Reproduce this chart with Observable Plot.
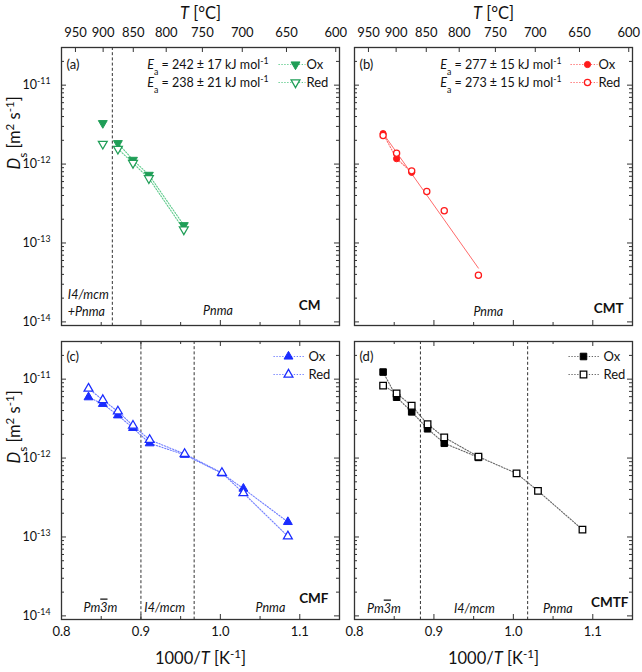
<!DOCTYPE html>
<html><head><meta charset="utf-8">
<script src="https://cdn.jsdelivr.net/npm/d3@7"></script>
<script src="https://cdn.jsdelivr.net/npm/@observablehq/plot@0.6"></script>
<style>body{margin:0;background:#fff} svg{display:block}</style>
</head><body><div id="chart"></div>
<script>
// ---------- data ----------
// (a) CM
const aX   = [0.852, 0.871, 0.890, 0.910, 0.954];
const aOx  = [3.3e-12, 1.84e-12, 1.13e-12, 7.3e-13, 1.68e-13];
const aRed = [1.80e-12, 1.56e-12, 1.03e-12, 6.6e-13, 1.48e-13];
const aBounds = [0.864];
const aPhaseX = [0.808, 0.997];
const aPhaseT = ["I4/mcm\n+Pnma", "Pnma"];
const aEa = ["*E*_{a} = 242 ± 17 kJ mol^{-1}", "*E*_{a} = 238 ± 21 kJ mol^{-1}"];
// (b) CMT
const bOxX  = [0.836, 0.853, 0.872];
const bOx   = [2.43e-12, 1.17e-12, 7.85e-13];
const bRedX = [0.836, 0.853, 0.872, 0.891, 0.913, 0.956];
const bRed  = [2.30e-12, 1.37e-12, 8.2e-13, 4.5e-13, 2.56e-13, 3.9e-14];
const bFitX = [0.836, 0.956];
const bFitD = [2.45e-12, 4.8e-14];
const bPhaseX = [0.9685];
const bPhaseT = ["Pnma"];
const bEa = ["*E*_{a} = 277 ± 15 kJ mol^{-1}", "*E*_{a} = 273 ± 15 kJ mol^{-1}"];
// (c) CMF
const cX   = [0.834, 0.852, 0.871, 0.890, 0.911, 0.955, 1.002, 1.029, 1.085];
const cOx  = [5.9e-12, 4.86e-12, 3.48e-12, 2.41e-12, 1.54e-12, 1.10e-12, 6.4e-13, 4.1e-13, 1.55e-13];
const cRed = [7.6e-12, 5.45e-12, 3.9e-12, 2.58e-12, 1.70e-12, 1.13e-12, 6.5e-13, 3.6e-13, 1.02e-13];
const cBounds = [0.900, 0.967];
const cPhaseX = [0.849, 0.930, 1.063];
const cPhaseT = ["Pm~{3}m", "I4/mcm", "Pnma"];
// (d) CMTF
const dX   = [0.836, 0.853, 0.872, 0.892, 0.913, 0.956, 1.004, 1.031, 1.087];
const dOx  = [1.23e-11, 5.9e-12, 3.85e-12, 2.35e-12, 1.54e-12, 1.02e-12];
const dRed = [8.3e-12, 6.6e-12, 4.6e-12, 2.68e-12, 1.83e-12, 1.04e-12, 6.4e-13, 3.84e-13, 1.24e-13];
const dBounds = [0.883, 1.018];
const dPhaseX = [0.837, 0.951, 1.056];
const dPhaseT = ["Pm~{3}m", "I4/mcm", "Pnma"];

// ticks
const xMajor = [0.8, 0.9, 1.0, 1.1];
const xMinor = [0.85, 0.95, 1.05];
const yMajor = [1e-14, 1e-13, 1e-12, 1e-11];
const yMinor = [];
for (const e of [-14, -13, -12, -11]) for (let m = 2; m <= 9; m++) { const v = m * Math.pow(10, e); if (v < 2.99e-11) yMinor.push(v); }
const Tlabels = [950, 900, 850, 800, 750, 700, 650, 600];

// ---------- layout ----------
const W = 642, H = 672, ML = 61, MR = 10, MT = 47, MB = 53;
const PX = 0.0512, PY = 0.0544;
const BWX = (W - ML - MR) / (2 - PX) * (1 - PX);
const BWY = (H - MT - MB) / (2 - PY) * (1 - PY);

const triDown = {draw(ctx, size) {
  const y = Math.sqrt(size / (3 * Math.sqrt(3)));
  ctx.moveTo(0, 2 * y); ctx.lineTo(-Math.sqrt(3) * y, -y); ctx.lineTo(Math.sqrt(3) * y, -y); ctx.closePath();
}};
const legLine = (l, r) => ({draw(ctx) { ctx.moveTo(l, 0); ctx.lineTo(r, 0); }});

const P = {
  a: {fx: "L", fy: "T", color: "#1f9e57", line: "#5fcb8c", sym: triDown, r: 3.3, name: "(a)", tag: "CM",
      tagDx: -19, tagDy: -20, phDy: -15, legDx: -44, legTx: -33, legDy: [17, 35], ll: [-17, 10], ea: aEa},
  b: {fx: "R", fy: "T", color: "#ff1a1a", line: "#ff6b6b", sym: "circle", r: 3.1, name: "(b)", tag: "CMT",
      tagDx: -9, tagDy: -17, phDy: -14, legDx: -45, legTx: -34, legDy: [17, 35], ll: [-17, 10], ea: bEa},
  c: {fx: "L", fy: "B", color: "#1a2cff", line: "#6f7dff", sym: "triangle", r: 3.3, name: "(c)", tag: "CMF",
      tagDx: -11, tagDy: -21, phDy: -12, legDx: -51, legTx: -31, legDy: [15, 33], ll: [-15, 16]},
  d: {fx: "R", fy: "B", color: "#000000", line: "#666666", sym: "square", r: 3.7, name: "(d)", tag: "CMTF",
      tagDx: -4, tagDy: -17, phDy: -11, legDx: -49, legTx: -29, legDy: [15, 33], ll: [-15, 16]}
};

const pts = (p, xs, ys) => ys.map((y, i) => ({fx: p.fx, fy: p.fy, x: xs[i], y}));
const one = p => [{fx: p.fx, fy: p.fy}];
const F = {fx: "fx", fy: "fy"};
const MID = {lineAnchor: "middle"};

const marks = [];
// phase boundaries
for (const [k, b] of [["a", aBounds], ["c", cBounds], ["d", dBounds]])
  marks.push(Plot.ruleX(b.map(x => ({...one(P[k])[0], x})), {x: "x", ...F, stroke: "#333", strokeWidth: 1, strokeDasharray: "3,2.2"}));

// connecting / fit lines
const lineOpt = p => ({x: "x", y: "y", ...F, stroke: p.line, strokeWidth: 1.1, strokeDasharray: "1.3,1.6"});
marks.push(Plot.line(pts(P.a, aX.slice(1), aOx.slice(1)), lineOpt(P.a)));
marks.push(Plot.line(pts(P.a, aX.slice(1), aRed.slice(1)), lineOpt(P.a)));
marks.push(Plot.line(pts(P.b, bOxX, bOx), lineOpt(P.b)));
marks.push(Plot.line(pts(P.b, bFitX, bFitD), {x: "x", y: "y", ...F, stroke: P.b.line, strokeWidth: 1}));
marks.push(Plot.line(pts(P.c, cX, cOx), lineOpt(P.c)));
marks.push(Plot.line(pts(P.c, cX, cRed), lineOpt(P.c)));
marks.push(Plot.line(pts(P.d, dX, dOx), lineOpt(P.d)));
marks.push(Plot.line(pts(P.d, dX, dRed), lineOpt(P.d)));

// points
const ox = (p, xs, ys) => Plot.dot(pts(p, xs, ys), {x: "x", y: "y", ...F, symbol: p.sym, r: p.r, fill: p.color, stroke: p.color, strokeWidth: 1});
const red = (p, xs, ys) => Plot.dot(pts(p, xs, ys), {x: "x", y: "y", ...F, symbol: p.sym, r: p.r, fill: "white", stroke: p.color, strokeWidth: 1.25});
marks.push(ox(P.a, aX, aOx), red(P.a, aX, aRed));
marks.push(ox(P.b, bOxX, bOx), red(P.b, bRedX, bRed));
marks.push(ox(P.c, cX, cOx), red(P.c, cX, cRed));
marks.push(ox(P.d, dX, dOx), red(P.d, dX, dRed));

// ticks (inward on all sides)
const TS = {stroke: "#333", strokeWidth: 1};
marks.push(Plot.tickY(yMajor, {y: d => d, insetRight: BWX - 5, ...TS}));
marks.push(Plot.tickY(yMinor, {y: d => d, insetRight: BWX - 3, ...TS}));
marks.push(Plot.tickY(yMajor, {y: d => d, insetLeft: BWX - 5, ...TS}));
marks.push(Plot.tickY(yMinor, {y: d => d, insetLeft: BWX - 3, ...TS}));
marks.push(Plot.tickX(xMajor, {x: d => d, insetTop: BWY - 5, ...TS}));
marks.push(Plot.tickX(xMinor, {x: d => d, insetTop: BWY - 3, ...TS}));
marks.push(Plot.tickX(xMajor.map(x => ({x, fy: "B"})), {x: "x", fy: "fy", insetBottom: BWY - 5, ...TS}));
marks.push(Plot.tickX(xMinor.map(x => ({x, fy: "B"})), {x: "x", fy: "fy", insetBottom: BWY - 3, ...TS}));
const Tpos = Tlabels.map(t => 1000 / (t + 273.15));
marks.push(Plot.tickX(Tpos.map(x => ({x, fy: "T"})), {x: "x", fy: "fy", insetBottom: BWY - 5, ...TS}));

marks.push(Plot.frame({stroke: "#333", strokeWidth: 1.3}));

// axes labels
marks.push(Plot.axisY({anchor: "left", facetAnchor: "left", ticks: yMajor, tickSize: 0, tickPadding: 11,
  tickFormat: d => "10^{" + Math.round(Math.log10(d)) + "}", label: null, fontSize: 12.5}));
marks.push(Plot.axisX({anchor: "bottom", facetAnchor: "bottom", ticks: xMajor, tickSize: 0, tickPadding: 7,
  tickFormat: d3.format(".1f"), label: null, fontSize: 13}));
marks.push(Plot.axisX({anchor: "top", facetAnchor: "top", ticks: Tpos, tickSize: 0, tickPadding: 11,
  tickFormat: d => String(Math.round(1000 / d - 273.15)), label: null, fontSize: 13}));

// axis titles
const topRow = [{fx: "L", fy: "T", t: "*T* [°C]"}, {fx: "R", fy: "T", t: "*T* [°C]"}];
const botRow = [{fx: "L", fy: "B", t: "1000/*T* [K^{-1}]"}, {fx: "R", fy: "B", t: "1000/*T* [K^{-1}]"}];
const leftCol = [{fx: "L", fy: "T", t: "*D*_{s} [m^{2} s^{-1}]"}, {fx: "L", fy: "B", t: "*D*_{s} [m^{2} s^{-1}]"}];
marks.push(Plot.text(topRow, {text: "t", ...F, frameAnchor: "top", dy: -34, fontSize: 16.5, ...MID}));
marks.push(Plot.text(botRow, {text: "t", ...F, frameAnchor: "bottom", dy: 39, fontSize: 16.5, ...MID}));
marks.push(Plot.text(leftCol, {text: "t", ...F, frameAnchor: "left", dx: -47, dy: -17, rotate: -90, fontSize: 16.5, ...MID}));

// panel annotations
for (const k of ["a", "b", "c", "d"]) {
  const p = P[k];
  marks.push(Plot.text(one(p), {text: () => p.name, ...F, frameAnchor: "top-left", dx: 5, dy: p.legDy[0], textAnchor: "start", fontSize: 13, ...MID}));
  marks.push(Plot.text(one(p), {text: () => p.tag, ...F, frameAnchor: "bottom-right", dx: p.tagDx, dy: p.tagDy, textAnchor: "end", fontSize: 13.5, fontWeight: "bold", ...MID}));
  ["Ox", "Red"].forEach((s, i) => {
    marks.push(Plot.dot(one(p), {...F, frameAnchor: "top-right", dx: p.legDx, dy: p.legDy[i], symbol: legLine(...p.ll), fill: "none",
      stroke: p.line, strokeWidth: 1.1, strokeDasharray: "1.3,1.6"}));
    marks.push(Plot.dot(one(p), {...F, frameAnchor: "top-right", dx: p.legDx, dy: p.legDy[i], symbol: p.sym, r: p.r,
      fill: i ? "white" : p.color, stroke: p.color, strokeWidth: i ? 1.25 : 1}));
    marks.push(Plot.text(one(p), {text: () => s, ...F, frameAnchor: "top-right", dx: p.legTx, dy: p.legDy[i], textAnchor: "start", fontSize: 13, ...MID}));
    if (p.ea) marks.push(Plot.text(one(p), {text: () => p.ea[i], ...F, frameAnchor: "top-right", dx: -71, dy: p.legDy[i], textAnchor: "end", fontSize: 12.5, ...MID}));
  });
}
// phase labels
const phase = (p, xs, ts, opts = {}) => Plot.text(xs.map((x, i) => ({...one(p)[0], x, t: ts[i]})),
  {x: "x", text: "t", ...F, frameAnchor: "bottom", dy: p.phDy, fontStyle: "italic", fontSize: 12.5, ...MID, ...opts});
marks.push(phase(P.a, aPhaseX.slice(0, 1), aPhaseT.slice(0, 1), {textAnchor: "start", dy: -23.5, lineHeight: 1.4}));
marks.push(phase(P.a, aPhaseX.slice(1), aPhaseT.slice(1)));
marks.push(phase(P.b, bPhaseX, bPhaseT));
marks.push(phase(P.c, cPhaseX, cPhaseT));
marks.push(phase(P.d, dPhaseX, dPhaseT));

const svg = Plot.plot({
  width: W, height: H, marginLeft: ML, marginRight: MR, marginTop: MT, marginBottom: MB,
  style: {fontFamily: "Lato, 'Open Sans', sans-serif", fontSize: "12.5px", color: "#111", background: "white"},
  x: {domain: [0.8, 1.15], label: null},
  y: {type: "log", domain: [9e-15, 3e-11], label: null},
  fx: {domain: ["L", "R"], paddingInner: PX, paddingOuter: 0, round: false, axis: null},
  fy: {domain: ["T", "B"], paddingInner: PY, paddingOuter: 0, round: false, axis: null},
  marks
});

// rich text: *italic*, ^{sup}, _{sub}, ~{overline}
const NS = "http://www.w3.org/2000/svg";
svg.querySelectorAll("text").forEach(t => {
  if (t.children.length) return;
  const s = t.textContent;
  if (!/[\^_~]\{|\*/.test(s)) return;
  t.textContent = "";
  const re = /\^\{([^}]*)\}|_\{([^}]*)\}|~\{([^}]*)\}|\*([^*]*)\*|([^\^_~*]+|[\^_~*])/g;
  let m;
  while ((m = re.exec(s))) {
    const ts = document.createElementNS(NS, "tspan");
    if (m[1] !== undefined) { ts.textContent = m[1]; ts.setAttribute("font-size", "70%"); ts.setAttribute("baseline-shift", "super"); }
    else if (m[2] !== undefined) { ts.textContent = m[2]; ts.setAttribute("font-size", "70%"); ts.setAttribute("baseline-shift", "sub"); }
    else if (m[3] !== undefined) { ts.textContent = m[3]; ts.setAttribute("text-decoration", "overline"); }
    else if (m[4] !== undefined) { ts.textContent = m[4]; ts.setAttribute("font-style", "italic"); }
    else ts.textContent = m[5];
    t.appendChild(ts);
  }
});
document.getElementById("chart").append(svg);
</script>
</body></html>
